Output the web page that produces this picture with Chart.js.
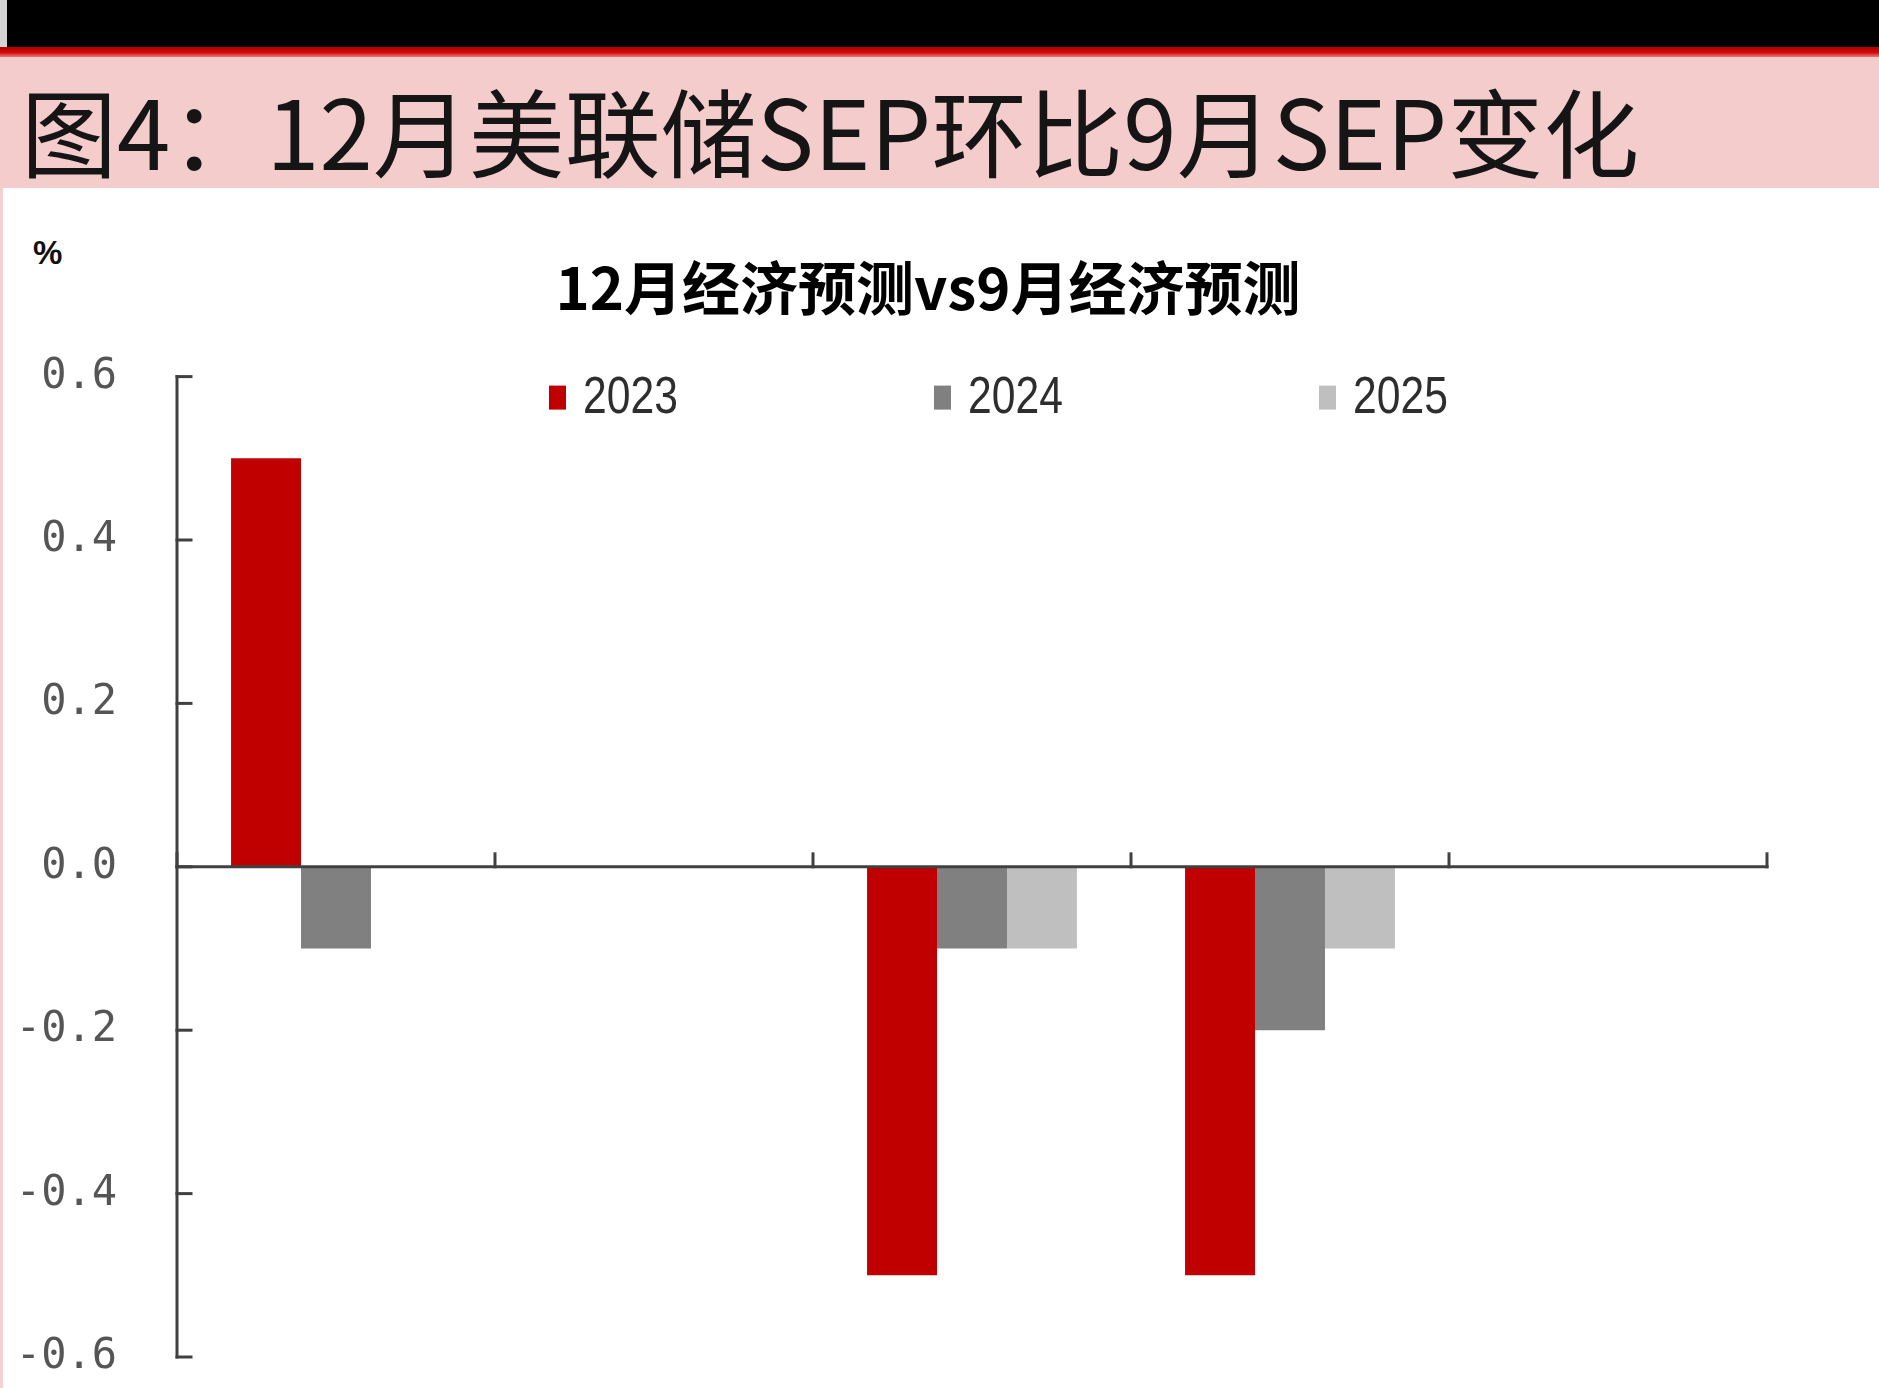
<!DOCTYPE html>
<html>
<head>
<meta charset="utf-8">
<script src="https://cdn.jsdelivr.net/npm/chart.js@4/dist/chart.umd.min.js"></script>
<style>
html,body{margin:0;padding:0;background:#fff;width:1879px;height:1388px;overflow:hidden;}
#blackbar{position:absolute;left:0;top:0;width:1879px;height:47px;background:#000;}
#corner{position:absolute;left:0;top:0;width:7px;height:47px;background:#d4d4d4;}
#redline{position:absolute;left:0;top:47px;width:1879px;height:10px;background:linear-gradient(#b00000,#d00a0a 55%,#e87a7a);}
#band{position:absolute;left:0;top:57px;width:1879px;height:131px;background:#f4cccc;}
#heading{position:absolute;left:21px;top:81px;font-family:"Noto Sans CJK SC";font-size:96px;line-height:96px;color:#151515;white-space:nowrap;}
#edge{position:absolute;left:0;top:188px;width:3px;height:1200px;background:#f6d0d0;}
#unit{position:absolute;left:33px;top:233px;font-family:"Liberation Sans";font-weight:bold;font-size:33px;line-height:40px;color:#111;}
#wrap{position:absolute;left:0;top:188px;width:1879px;height:1200px;}
</style>
</head>
<body>
<div id="blackbar"></div>
<div id="corner"></div>
<div id="redline"></div>
<div id="band"></div>
<div id="heading"></div>
<div id="edge"></div>
<div id="unit"></div>
<div id="wrap"><canvas id="c" width="1879" height="1200"></canvas></div>
<script>
// ---- data ----
const figureTitle = "图4：12月美联储SEP环比9月SEP变化";
const chartTitle = "12月经济预测vs9月经济预测";
const unitLabel = "%";
const categories = ["GDP", "失业率", "PCE通胀", "核心PCE通胀", "联邦基金利率"];
const seriesNames = ["2023", "2024", "2025"];
const values2023 = [0.5, 0, -0.5, -0.5, 0];
const values2024 = [-0.1, 0, -0.1, -0.2, 0];
const values2025 = [0, 0, -0.1, -0.1, 0];
const yTicks = [-0.6, -0.4, -0.2, 0, 0.2, 0.4, 0.6];
const seriesColors = ["#C00000", "#808080", "#BFBFBF"];

document.getElementById('heading').textContent = figureTitle;
document.getElementById('unit').textContent = unitLabel;

// ---- layout constants ----
const AXIS_COLOR = '#404040';
const LEGEND_FIRST = 372;   // offset of first legend box from plot left
const LEGEND_STEP = 385;
const LEGEND_DY = 21;       // legend centre below plot top
const BOX_W = 17, BOX_H = 24, TEXT_GAP = 34;
const TICK_FONT = {family: '"DejaVu Sans Mono"', size: 42};
const LABEL_GAP = 60;       // gap between label right edge and axis

function hasFont(name) {
  const c = document.createElement('canvas').getContext('2d');
  c.font = '52px monospace';
  const a = c.measureText('2023 abc').width;
  c.font = '52px "' + name + '", monospace';
  const b = c.measureText('2023 abc').width;
  return a !== b;
}
const narrowOK = hasFont('Liberation Sans Narrow');

// widest y tick label, for right-aligned labels with mirror mode
const mctx = document.createElement('canvas').getContext('2d');
mctx.font = TICK_FONT.size + 'px ' + TICK_FONT.family;
const widestLabel = Math.max(...yTicks.map(v => mctx.measureText(v.toFixed(1)).width));

const axesPlugin = {
  id: 'axesDraw',
  afterDatasetsDraw(chart) {
    const {ctx, chartArea, scales} = chart;
    const x = scales.x, y = scales.y;
    const left = chartArea.left;
    const yTop = y.getPixelForValue(yTicks[yTicks.length - 1]);
    const yBot = y.getPixelForValue(yTicks[0]);
    const y0 = y.getPixelForValue(0);
    const n = categories.length;
    const step = x.getPixelForValue(1) - x.getPixelForValue(0);
    const right = x.getPixelForValue(n - 1) + step / 2;
    ctx.save();
    ctx.strokeStyle = AXIS_COLOR;
    ctx.lineWidth = 3;
    ctx.lineCap = 'square';
    ctx.beginPath();
    ctx.moveTo(left, yTop);
    ctx.lineTo(left, yBot);
    ctx.stroke();
    yTicks.forEach(v => {
      const py = y.getPixelForValue(v);
      ctx.beginPath();
      ctx.moveTo(left, py);
      ctx.lineTo(left + 14, py);
      ctx.stroke();
    });
    ctx.beginPath();
    ctx.moveTo(left, y0);
    ctx.lineTo(right, y0);
    ctx.stroke();
    for (let i = 0; i <= n; i++) {
      const bx = i < n ? x.getPixelForValue(i) - step / 2 : right;
      ctx.beginPath();
      ctx.moveTo(bx, y0);
      ctx.lineTo(bx, y0 - 13);
      ctx.stroke();
    }
    ctx.restore();

    // legend
    ctx.save();
    const ly = chartArea.top + LEGEND_DY;
    chart.data.datasets.forEach((ds, i) => {
      const bx = left + LEGEND_FIRST + i * LEGEND_STEP;
      ctx.fillStyle = ds.backgroundColor;
      ctx.fillRect(bx, ly - BOX_H / 2, BOX_W, BOX_H);
      ctx.fillStyle = '#2e2e2e';
      ctx.textBaseline = 'middle';
      ctx.textAlign = 'left';
      if (narrowOK) {
        ctx.font = '52px "Liberation Sans Narrow"';
        ctx.fillText(ds.label, bx + TEXT_GAP, ly + 1);
      } else {
        ctx.save();
        ctx.font = '52px "Liberation Sans"';
        ctx.translate(bx + TEXT_GAP, ly + 1);
        ctx.scale(0.82, 1);
        ctx.fillText(ds.label, 0, 0);
        ctx.restore();
      }
    });
    ctx.restore();
  }
};

new Chart(document.getElementById('c'), {
  type: 'bar',
  data: {
    labels: categories,
    datasets: [
      {label: seriesNames[0], data: values2023, backgroundColor: seriesColors[0]},
      {label: seriesNames[1], data: values2024, backgroundColor: seriesColors[1]},
      {label: seriesNames[2], data: values2025, backgroundColor: seriesColors[2]}
    ]
  },
  options: {
    responsive: false,
    animation: false,
    devicePixelRatio: 1,
    layout: {padding: {left: 89, right: 112, top: 0, bottom: 31}},
    datasets: {bar: {categoryPercentage: 0.66, barPercentage: 1.0, borderWidth: 0}},
    plugins: {
      legend: {display: false},
      tooltip: {enabled: false},
      title: {
        display: true,
        text: chartTitle,
        color: '#000',
        font: {family: '"Noto Sans CJK SC"', size: 58, weight: 'bold'},
        padding: {top: 65, bottom: 54}
      }
    },
    scales: {
      x: {display: false},
      y: {
        min: -0.6, max: 0.6,
        afterBuildTicks: s => { s.ticks = yTicks.map(v => ({value: v})); },
        afterFit: s => { s.width = 88; },
        grid: {display: false, drawTicks: false},
        border: {display: false},
        ticks: {
          mirror: true,
          crossAlign: 'far',
          padding: -(LABEL_GAP + widestLabel),
          color: '#555555',
          font: TICK_FONT,
          callback: v => Number(v).toFixed(1)
        }
      }
    }
  },
  plugins: [axesPlugin]
});
</script>
</body>
</html>
